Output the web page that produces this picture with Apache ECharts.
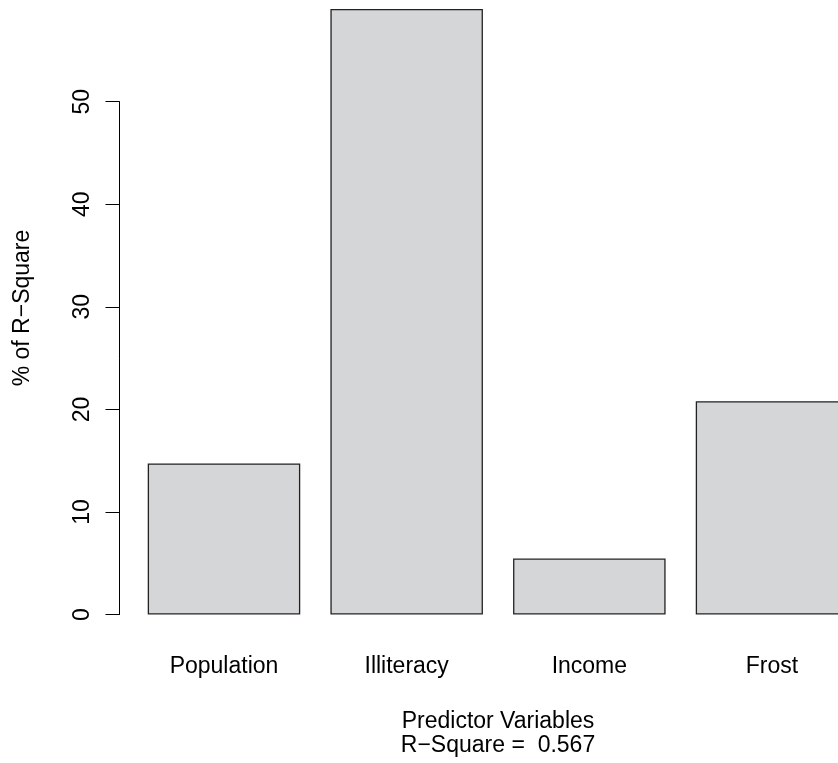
<!DOCTYPE html>
<html>
<head>
<meta charset="utf-8">
<script src="https://cdn.jsdelivr.net/npm/echarts@6/dist/echarts.min.js"></script>
<style>
html,body{margin:0;padding:0;background:#fff;overflow:hidden;width:838px;height:763px;}
#chart{width:870px;height:763px;}
</style>
</head>
<body>
<div id="chart"></div>
<script>
var categories = ["Population", "Illiteracy", "Income", "Frost"];
var values = [14.73, 59.05, 5.46, 20.8];
var yTicks = [0, 10, 20, 30, 40, 50];
var xTitle = "Predictor Variables\nR\u2212Square =  0.567";
var yTitle = "% of R\u2212Square";

var FONT = "Liberation Sans, Helvetica, Arial, sans-serif";
var chart = echarts.init(document.getElementById('chart'), null, {renderer: 'canvas'});
chart.setOption({
  backgroundColor: '#ffffff',
  animation: false,
  grid: {left: 132.65, right: 6.65, top: 101.7, height: 516.5, containLabel: false},
  xAxis: {
    type: 'category',
    data: categories,
    boundaryGap: true,
    axisLine: {show: false},
    axisTick: {show: false},
    splitLine: {show: false},
    axisLabel: {color: '#000', fontFamily: FONT, fontSize: 23, margin: 41},
    name: xTitle,
    nameLocation: 'middle',
    nameGap: 95.5,
    nameTextStyle: {color: '#000', fontFamily: FONT, fontSize: 23, lineHeight: 24, verticalAlign: 'top'}
  },
  yAxis: {
    type: 'value',
    min: yTicks[0],
    max: yTicks[yTicks.length - 1],
    interval: 10,
    offset: 13.15,
    axisLine: {show: true, lineStyle: {color: '#000', width: 1}},
    axisTick: {show: true, length: 14, lineStyle: {color: '#000', width: 1}},
    splitLine: {show: false},
    axisLabel: {color: '#000', fontFamily: FONT, fontSize: 23, rotate: 90, margin: 25}
  },
  graphic: [{
    type: 'text',
    x: 23, y: 308,
    rotation: Math.PI / 2,
    style: {text: yTitle, fill: '#000', font: '23px ' + FONT, textAlign: 'center', textVerticalAlign: 'middle'}
  }],
  series: [{
    type: 'bar',
    data: values,
    clip: false,
    barCategoryGap: '16.5%',
    itemStyle: {color: '#d5d6d8', borderColor: '#222', borderWidth: 1.3}
  }]
});
</script>
</body>
</html>
